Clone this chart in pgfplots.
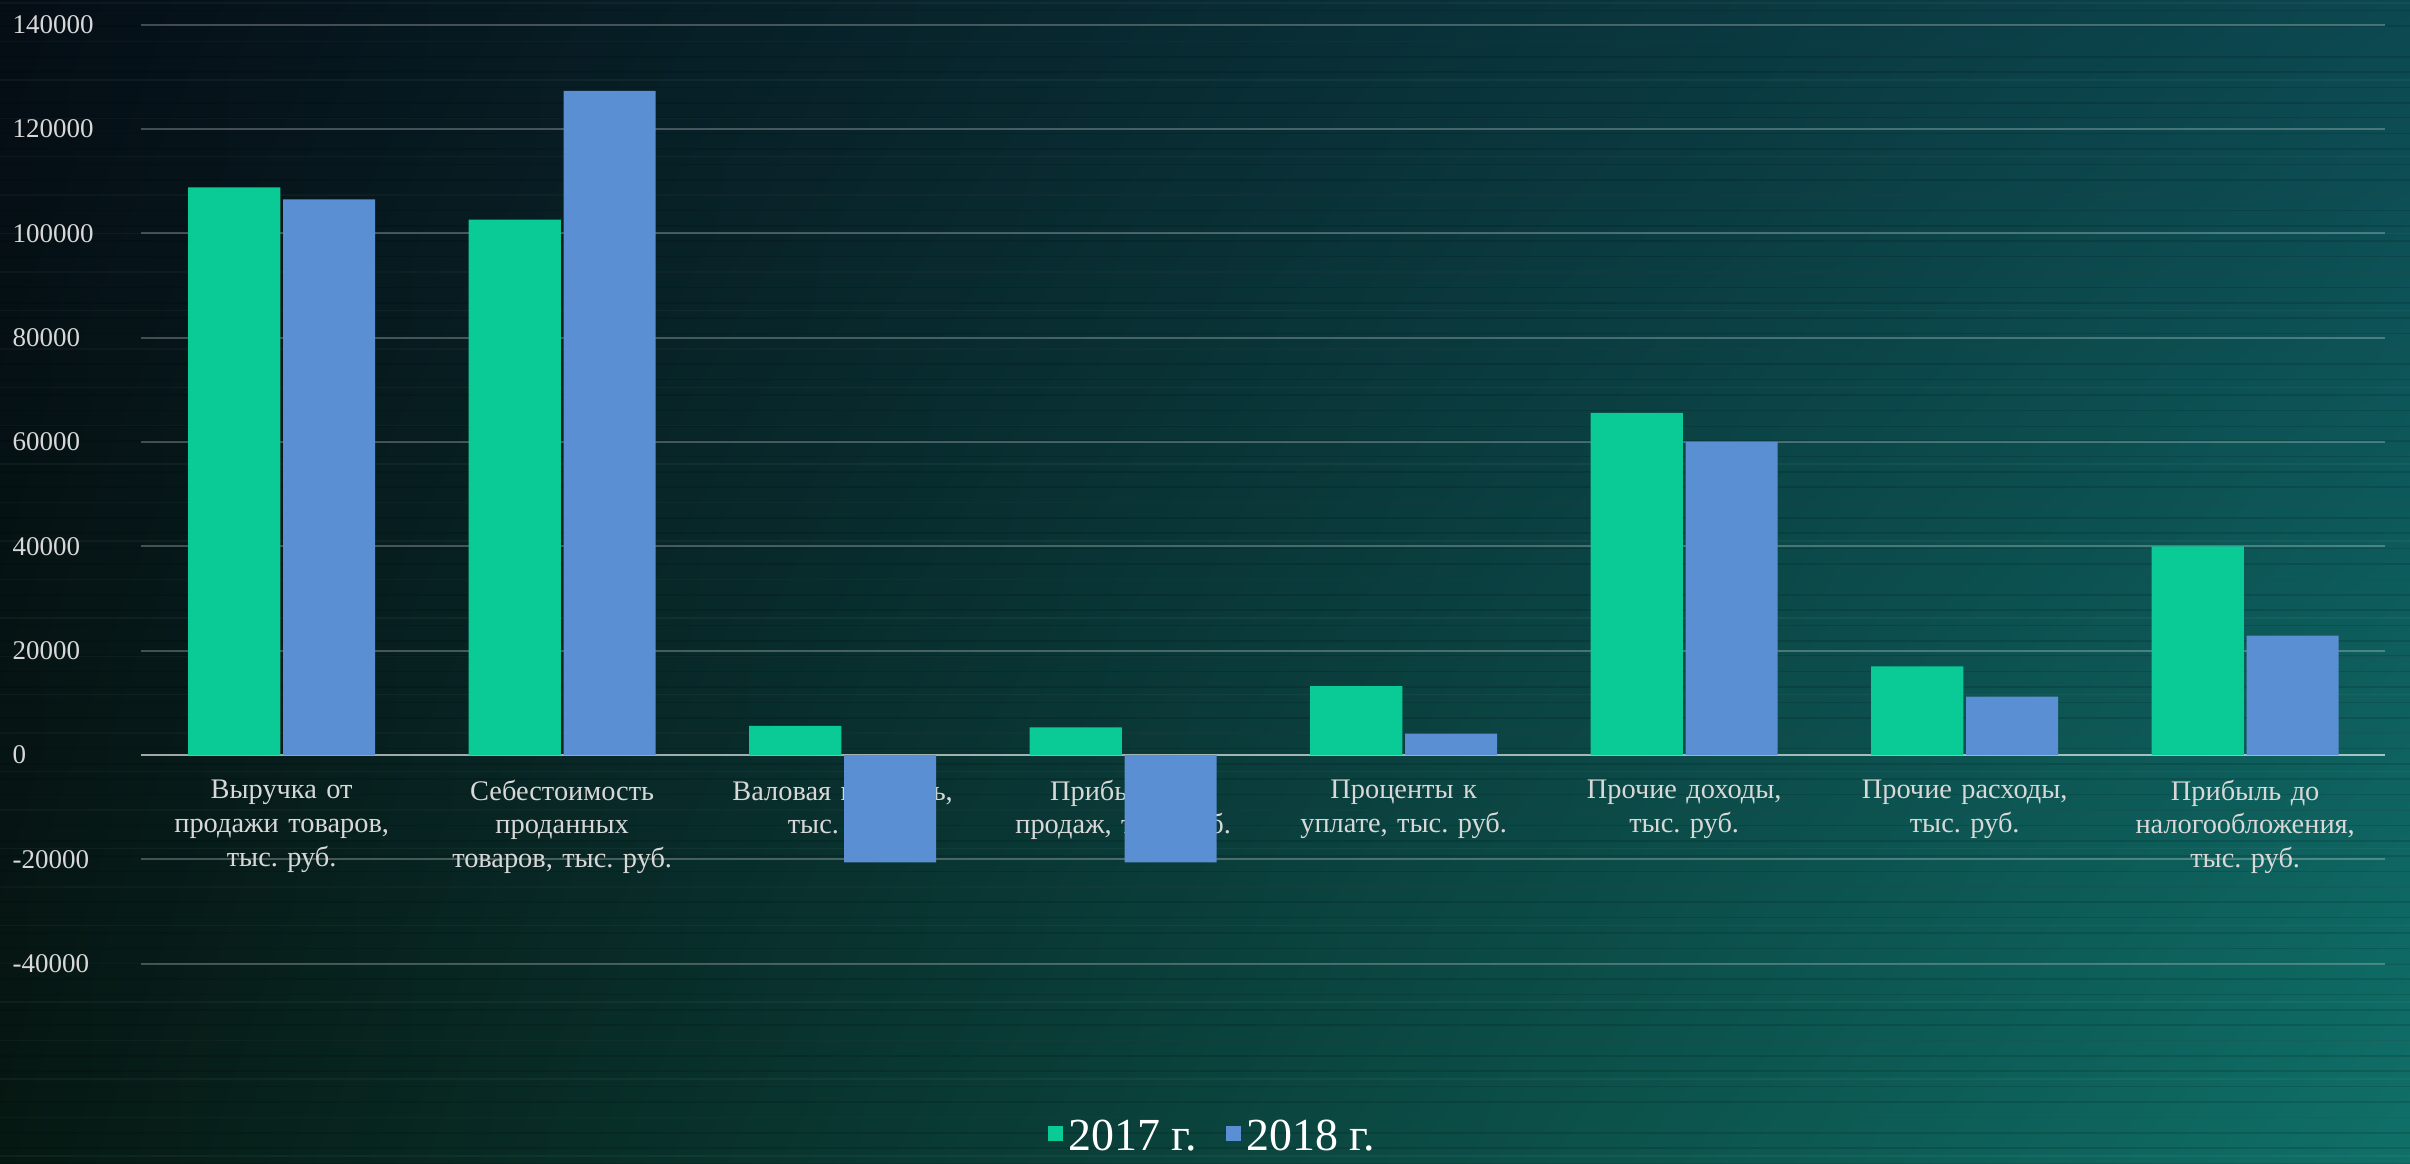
\documentclass[border=0pt]{standalone}
\usepackage{fontspec}
\setmainfont{Liberation Serif}
\usepackage{pgfplots}
\pgfplotsset{compat=1.18}
\usetikzlibrary{shadings}
\frenchspacing

\definecolor{bgTL}{HTML}{050D15}
\definecolor{bgTR}{HTML}{0C4850}
\definecolor{bgBL}{HTML}{061812}
\definecolor{bgBR}{HTML}{0F7068}
\definecolor{g17}{HTML}{0ACB95}
\definecolor{b18}{HTML}{5B8FD3}
\definecolor{txt}{HTML}{D8D8D8}

\begin{document}
\begin{tikzpicture}
% picture is 31.36cm x 15.14cm, axis box from (1.84,2.6) to (31.04,14.82)
\begin{axis}[
    set layers=standard,
    clip=false,
    at={(1.84cm,2.6cm)}, anchor=south west,
    scale only axis,
    width=29.2cm, height=12.22cm,
    ybar=1pt, bar width=1.2cm,
    xmin=-0.5, xmax=7.5,
    ymin=-40000, ymax=140000,
    ytick={-40000,-20000,0,20000,40000,60000,80000,100000,120000,140000},
    yticklabels={-40000,-20000,0,20000,40000,60000,80000,100000,120000,140000},
    xtick={0,...,7},
    xticklabels={
      {Выручка от\\продажи товаров,\\тыс. руб.},
      {Себестоимость\\проданных\\товаров, тыс. руб.},
      {Валовая прибыль,\\тыс. руб.},
      {Прибыль от\\продаж, тыс. руб.},
      {Проценты к\\уплате, тыс. руб.},
      {Прочие доходы,\\тыс. руб.},
      {Прочие расходы,\\тыс. руб.},
      {Прибыль  до\\налогообложения,\\тыс. руб.}},
    axis x line*=middle,
    axis y line*=left,
    x axis line style={draw=white, draw opacity=0.5, line width=1pt},
    y axis line style={draw=none},
    major tick length=0pt,
    ymajorgrids=true,
    grid style={white, opacity=0.25, line width=0.8pt},
    xticklabel style={text=txt, font=\fontsize{10.5}{12.5}\selectfont,
      align=center, text width=3.6cm, anchor=north, yshift=-0.2cm},
    yticklabel style={text=txt, font=\fontsize{10}{11}\selectfont,
      anchor=west, inner ysep=0pt, xshift=-1.8cm},
    legend style={at={(0.478,-0.185)}, anchor=center, draw=none, fill=none,
      legend columns=-1, text=white, font=\fontsize{17}{19}\selectfont,
      /tikz/every even column/.append style={column sep=0.3cm}},
    legend image code/.code={\fill[#1] (0.1cm,-0.05cm) rectangle (0.3cm,0.15cm);},
]
\begin{pgfonlayer}{axis background}
  \shade[upper left=bgTL, upper right=bgTR, lower left=bgBL, lower right=bgBR]
    ([xshift=-1.84cm,yshift=-2.6cm]rel axis cs:0,0) rectangle
    ([xshift=0.32cm,yshift=0.32cm]rel axis cs:1,1);
\end{pgfonlayer}
% horizontal streaks
\pgfplotsinvokeforeach{0,2,...,150}{
  \begin{pgfonlayer}{axis background}
    \draw[black, line width=0.6pt, opacity=0.12]
      ([xshift=-1.84cm,yshift=-2.6cm+0.1cm*#1]rel axis cs:0,0) --
      ([xshift=0.32cm,yshift=-2.6cm+0.1cm*#1]rel axis cs:1,0);
  \end{pgfonlayer}
}
\pgfplotsinvokeforeach{1,6,...,150}{
  \begin{pgfonlayer}{axis background}
    \draw[white, line width=0.5pt, opacity=0.04]
      ([xshift=-1.84cm,yshift=-2.6cm+0.1cm*#1]rel axis cs:0,0) --
      ([xshift=0.32cm,yshift=-2.6cm+0.1cm*#1]rel axis cs:1,0);
  \end{pgfonlayer}
}
\addplot[fill=g17, draw=none] coordinates {
  (0,108800) (1,102600) (2,5600) (3,5300) (4,13200) (5,65600) (6,17000) (7,40000)};
\addlegendentry{2017 г.}
\addplot[fill=b18, draw=none] coordinates {
  (0,106500) (1,127300) (2,-20600) (3,-20600) (4,4100) (5,60000) (6,11200) (7,22900)};
\addlegendentry{2018 г.}
\end{axis}
\pgfresetboundingbox
\useasboundingbox (0,0) rectangle (31.36cm,15.14cm);
\end{tikzpicture}
\end{document}
